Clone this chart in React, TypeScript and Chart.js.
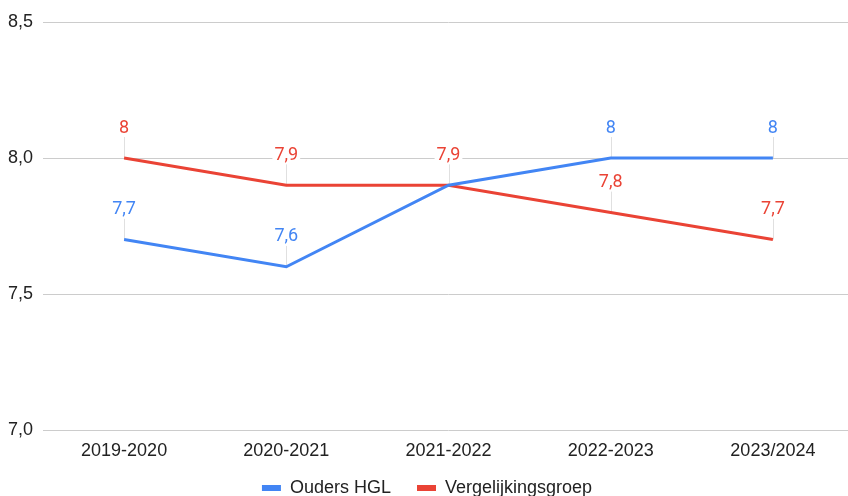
import React, { useEffect, useRef } from "react";
import { Chart, registerables } from "chart.js";

Chart.register(...registerables);

const categories = ["2019-2020", "2020-2021", "2021-2022", "2022-2023", "2023/2024"];
const oudersHGL = [7.7, 7.6, 7.9, 8, 8];
const vergelijkingsgroep = [8, 7.9, 7.9, 7.8, 7.7];
const yTickValues = [7, 7.5, 8, 8.5];
const seriesNames = ["Ouders HGL", "Vergelijkingsgroep"];
const seriesColors = ["#4285F4", "#EA4335"];

const fmt = (v: number) => String(v).replace(".", ",");

function hidden(chart: any, di: number, i: number) {
  const ds = chart.data.datasets;
  for (let k = di + 1; k < ds.length; k++) {
    if (ds[k].data[i] === ds[di].data[i]) return true;
  }
  return false;
}

const dataLabelPlugin = {
  id: "dataLabels",
  afterLayout(chart: any) {
    // let the x-axis labels draw below the (compact) axis box
    chart.scales.x.bottom += 20;
  },
  beforeDatasetsDraw(chart: any) {
    const ctx = chart.ctx;
    ctx.save();
    ctx.strokeStyle = "#e0e0e0";
    ctx.lineWidth = 1;
    chart.data.datasets.forEach((ds: any, di: number) => {
      const meta = chart.getDatasetMeta(di);
      meta.data.forEach((pt: any, i: number) => {
        if (hidden(chart, di, i)) return;
        const x = Math.round(pt.x) + 0.5;
        ctx.beginPath();
        ctx.moveTo(x, pt.y - 21);
        ctx.lineTo(x, pt.y);
        ctx.stroke();
      });
    });
    ctx.restore();
  },
  afterDatasetsDraw(chart: any) {
    const ctx = chart.ctx;
    ctx.save();
    ctx.font = "18px Roboto";
    ctx.textAlign = "center";
    ctx.textBaseline = "middle";
    chart.data.datasets.forEach((ds: any, di: number) => {
      const meta = chart.getDatasetMeta(di);
      meta.data.forEach((pt: any, i: number) => {
        if (hidden(chart, di, i)) return;
        const txt = fmt(ds.data[i]);
        const w = ctx.measureText(txt).width;
        const cy = pt.y - 30;
        ctx.fillStyle = "#ffffff";
        ctx.fillRect(pt.x - w / 2 - 2, cy - 8, w + 4, 17);
        ctx.fillStyle = ds.borderColor;
        ctx.fillText(txt, pt.x, cy);
      });
    });
    ctx.restore();
  },
};

export default function App() {
  const ref = useRef<HTMLCanvasElement>(null);
  useEffect(() => {
    if (!ref.current) return;
    const chart = new Chart(ref.current, {
      type: "line",
      data: {
        labels: categories,
        datasets: [
          {
            label: seriesNames[0],
            data: oudersHGL,
            borderColor: seriesColors[0],
            backgroundColor: seriesColors[0],
            borderWidth: 3,
            pointRadius: 0,
            tension: 0,
          },
          {
            label: seriesNames[1],
            data: vergelijkingsgroep,
            borderColor: seriesColors[1],
            backgroundColor: seriesColors[1],
            borderWidth: 3,
            pointRadius: 0,
            tension: 0,
          },
        ],
      },
      options: {
        responsive: false,
        animation: false,
        layout: { padding: { top: 22, left: 0, right: 0, bottom: 0 } },
        plugins: {
          tooltip: { enabled: false },
          legend: {
            position: "bottom",
            labels: {
              boxWidth: 19,
              boxHeight: 6,
              padding: 26,
              color: "#222222",
              font: { family: "'Liberation Sans', Arial", size: 18 },
              generateLabels: (c: any) =>
                Chart.defaults.plugins.legend.labels
                  .generateLabels(c)
                  .map((l: any) => ({ ...l, lineWidth: 0 })),
            },
          },
        },
        scales: {
          x: {
            type: "category",
            offset: true,
            grid: { display: false, drawTicks: false },
            border: { display: false },
            ticks: {
              padding: 10,
              color: "#222222",
              maxRotation: 0,
              font: { family: "'Liberation Sans', Arial", size: 18 },
            },
            afterFit: (s: any) => {
              s.height = 23;
            },
          },
          y: {
            min: 7,
            max: 8.5,
            grid: { color: "#cccccc", lineWidth: 1, drawTicks: false },
            border: { display: false },
            afterBuildTicks: (s: any) => {
              s.ticks = yTickValues.map((v) => ({ value: v }));
            },
            ticks: {
              padding: 10,
              color: "#222222",
              font: { family: "'Liberation Sans', Arial", size: 18 },
              callback: (v: any) => Number(v).toFixed(1).replace(".", ","),
            },
            afterFit: (s: any) => {
              s.width = 43;
            },
          },
        },
      },
      plugins: [dataLabelPlugin],
    });
    return () => chart.destroy();
  }, []);
  return (
    <div
      style={{
        position: "fixed",
        left: 0,
        top: 0,
        width: 848,
        height: 496,
        overflow: "hidden",
        background: "#ffffff",
      }}
    >
      <canvas ref={ref} width={854} height={507} style={{ display: "block" }} />
    </div>
  );
}
